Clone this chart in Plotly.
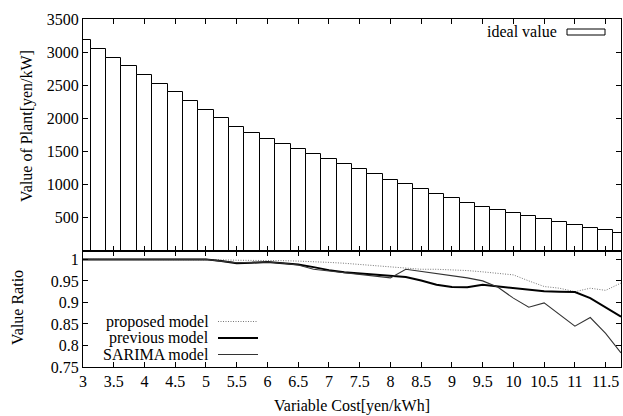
import plotly.graph_objects as go
from plotly.subplots import make_subplots

# ---- data ----
variable_cost = [3.0, 3.25, 3.5, 3.75, 4.0, 4.25, 4.5, 4.75, 5.0, 5.25, 5.5, 5.75,
                 6.0, 6.25, 6.5, 6.75, 7.0, 7.25, 7.5, 7.75, 8.0, 8.25, 8.5, 8.75,
                 9.0, 9.25, 9.5, 9.75, 10.0, 10.25, 10.5, 10.75, 11.0, 11.25, 11.5, 11.75]

ideal_value = [3181, 3044, 2912, 2786, 2654, 2524, 2392, 2266, 2133, 2008, 1876, 1780,
               1689, 1613, 1537, 1455, 1379, 1304, 1234, 1158, 1076, 1011, 935, 863,
               798, 727, 662, 612, 566, 520, 475, 439, 388, 343, 308, 272]

proposed_model = [1.0, 1.0, 1.0, 1.0, 1.0, 1.0, 1.0, 1.0, 1.0, 0.999, 0.998, 0.998,
                  0.998, 0.997, 0.996, 0.995, 0.993, 0.991, 0.988, 0.985, 0.982, 0.980, 0.977, 0.977,
                  0.976, 0.974, 0.971, 0.968, 0.964, 0.950, 0.937, 0.933, 0.925, 0.933, 0.928, 0.945]

previous_model = [1.0, 1.0, 1.0, 1.0, 1.0, 1.0, 1.0, 1.0, 1.0, 0.996, 0.991, 0.992,
                  0.994, 0.991, 0.988, 0.982, 0.975, 0.970, 0.967, 0.964, 0.961, 0.959, 0.951, 0.941,
                  0.936, 0.935, 0.941, 0.937, 0.933, 0.930, 0.926, 0.925, 0.924, 0.910, 0.889, 0.867]

sarima_model = [1.0, 1.0, 1.0, 1.0, 1.0, 1.0, 1.0, 1.0, 1.0, 0.996, 0.992, 0.993,
                0.994, 0.991, 0.987, 0.977, 0.973, 0.969, 0.966, 0.961, 0.957, 0.977, 0.972, 0.966,
                0.961, 0.957, 0.950, 0.935, 0.910, 0.889, 0.899, 0.872, 0.845, 0.865, 0.828, 0.783]

x_ticks = [3, 3.5, 4, 4.5, 5, 5.5, 6, 6.5, 7, 7.5, 8, 8.5, 9, 9.5, 10, 10.5, 11, 11.5]
x_tick_labels = ["3", "3.5", "4", "4.5", "5", "5.5", "6", "6.5", "7", "7.5", "8",
                 "8.5", "9", "9.5", "10", "10.5", "11", "11.5"]
top_y_ticks = [500, 1000, 1500, 2000, 2500, 3000, 3500]
bottom_y_ticks = [0.75, 0.8, 0.85, 0.9, 0.95, 1.0]
bottom_y_labels = ["0.75", "0.8", "0.85", "0.9", "0.95", "1"]

FONT = "Liberation Serif"
FS = 16

PROPOSED_LINE = dict(color="#777777", width=1, dash="1px,1.5px")
PREVIOUS_LINE = dict(color="black", width=2)
SARIMA_LINE = dict(color="#333333", width=1.1)

fig = make_subplots(rows=2, cols=1, shared_xaxes=True, vertical_spacing=0,
                    row_heights=[0.666, 0.334])

fig.add_trace(go.Bar(x=variable_cost, y=ideal_value, width=0.25,
                     marker=dict(color="white", line=dict(color="black", width=1)),
                     name="ideal value", showlegend=False), row=1, col=1)

fig.add_trace(go.Scatter(x=variable_cost, y=proposed_model, mode="lines",
                         line=PROPOSED_LINE, name="proposed model", showlegend=False),
              row=2, col=1)
fig.add_trace(go.Scatter(x=variable_cost, y=previous_model, mode="lines",
                         line=PREVIOUS_LINE, name="previous model", showlegend=False),
              row=2, col=1)
fig.add_trace(go.Scatter(x=variable_cost, y=sarima_model, mode="lines",
                         line=SARIMA_LINE, name="SARIMA model", showlegend=False),
              row=2, col=1)

axis_common = dict(showline=True, linecolor="black", linewidth=1, mirror="ticks",
                   ticks="inside", ticklen=5, tickcolor="black", showgrid=False,
                   zeroline=False, tickfont=dict(family=FONT, size=FS, color="black"))

fig.update_xaxes(range=[3, 11.75], tickvals=x_ticks, ticktext=x_tick_labels,
                 **axis_common)
fig.update_xaxes(showticklabels=False, row=1, col=1)
fig.update_yaxes(range=[0, 3500], tickvals=top_y_ticks, row=1, col=1, **axis_common)
fig.update_yaxes(range=[0.75, 1.02], tickvals=bottom_y_ticks, ticktext=bottom_y_labels,
                 row=2, col=1, **axis_common)

L, R, T, B = 83, 2, 19, 49
W, H = 623, 416
PW, PH = W - L - R, H - T - B

def px(x):
    return (x - L) / PW

def py(y):
    return (H - B - y) / PH

annots = [
    dict(text="Value of Plant[yen/kW]", x=px(27), y=py(126), textangle=-90),
    dict(text="Value Ratio", x=px(17), y=py(308), textangle=-90),
    dict(text="Variable Cost[yen/kWh]", x=px(352), y=py(406)),
]
for a in annots:
    fig.add_annotation(xref="paper", yref="paper", showarrow=False,
                       xanchor="center", yanchor="middle",
                       font=dict(family=FONT, size=FS, color="black"), **a)

# legend of top panel
fig.add_annotation(xref="paper", yref="paper", showarrow=False, text="ideal value",
                   x=px(559), y=py(32), xanchor="right", yanchor="middle",
                   font=dict(family=FONT, size=FS, color="black"))
fig.add_shape(type="rect", xref="paper", yref="paper",
              x0=px(567), x1=px(605), y0=py(35), y1=py(29),
              line=dict(color="black", width=1), fillcolor="white")

# legend of bottom panel
leg = [("proposed model", 321.5, PROPOSED_LINE),
       ("previous model", 338, PREVIOUS_LINE),
       ("SARIMA model", 354.5, SARIMA_LINE)]
for name, yc, ln in leg:
    fig.add_annotation(xref="paper", yref="paper", showarrow=False, text=name,
                       x=px(211), y=py(yc), xanchor="right", yanchor="middle",
                       font=dict(family=FONT, size=FS, color="black"))
    fig.add_shape(type="line", xref="paper", yref="paper",
                  x0=px(218), x1=px(258), y0=py(yc), y1=py(yc), line=ln)

fig.update_layout(width=W, height=H, margin=dict(l=L, r=R, t=T, b=B),
                  paper_bgcolor="white", plot_bgcolor="white",
                  font=dict(family=FONT, size=FS, color="black"),
                  showlegend=False, bargap=0)

fig.write_html("out.html", config={"displayModeBar": False},
               post_script="document.body.style.margin='0';document.body.style.overflow='hidden';")
